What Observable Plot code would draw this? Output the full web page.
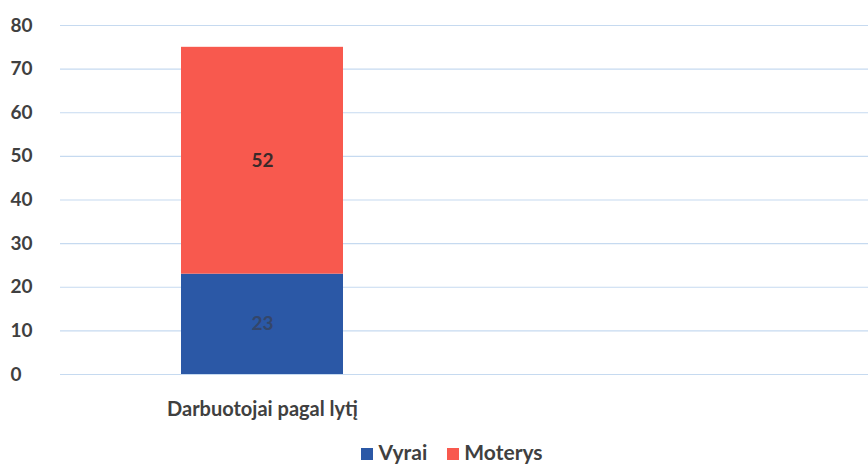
<!DOCTYPE html>
<html>
<head>
<meta charset="utf-8">
<script src="https://cdn.jsdelivr.net/npm/d3@7"></script>
<script src="https://cdn.jsdelivr.net/npm/@observablehq/plot@0.6"></script>
<style>
  body { margin: 0; background: #fff; font-family: Lato, "Open Sans", sans-serif; }
  #legend { display: flex; justify-content: center; gap: 20px; height: 30px; align-items: center; font-family: Lato, sans-serif; font-weight: 700; font-size: 21px; color: #404040; padding-left: 36px; padding-top: 10px; }
  #legend span.sw { display: inline-block; width: 12px; height: 12px; margin-right: 5px; vertical-align: 0px; }
</style>
</head>
<body>
<div id="chart"></div>
<div id="legend"></div>
<script>
const categories = ["Darbuotojai pagal lytį", ""];
const seriesNames = ["Vyrai", "Moterys"];
const seriesColors = ["#2B58A6", "#F8594E"];
const vyrai = [23];
const moterys = [52];
const yTicks = [0, 10, 20, 30, 40, 50, 60, 70, 80];

const data = [];
vyrai.forEach((v, i) => data.push({cat: categories[i], series: seriesNames[0], value: v}));
moterys.forEach((v, i) => data.push({cat: categories[i], series: seriesNames[1], value: v}));

const chart = Plot.plot({
  width: 868,
  height: 426,
  marginLeft: 60,
  marginRight: 0,
  marginTop: 25,
  marginBottom: 52,
  style: {fontFamily: "Lato, sans-serif", fontSize: "19px", fontWeight: 700, color: "#404040", background: "#fff"},
  x: {domain: categories, paddingInner: 0.6, paddingOuter: 0.3, label: null},
  y: {domain: [0, 80], label: null},
  color: {domain: seriesNames, range: seriesColors},
  marks: [
    Plot.gridY(yTicks, {stroke: "#C6DAF0", strokeOpacity: 1, strokeWidth: 1.2}),
    Plot.axisY(yTicks, {tickSize: 0, tickPadding: 50, textAnchor: "start", fill: "#404040", fontSize: 19, fontWeight: 700}),
    Plot.axisX({tickSize: 0, tickPadding: 27, fill: "#404040", fontSize: 20, fontWeight: 700}),
    Plot.barY(data, {x: "cat", y: "value", fill: "series", order: seriesNames}),
    Plot.text(data, Plot.stackY({x: "cat", y: "value", order: seriesNames, text: d => d.value, fill: d => d.series === "Vyrai" ? "#34466A" : "#3a2a2a", fontSize: 19, fontWeight: 700}))
  ]
});
document.getElementById("chart").appendChild(chart);

const legend = document.getElementById("legend");
seriesNames.forEach((s, i) => {
  const el = document.createElement("div");
  el.innerHTML = `<span class="sw" style="background:${seriesColors[i]}"></span>${s}`;
  legend.appendChild(el);
});
</script>
</body>
</html>
